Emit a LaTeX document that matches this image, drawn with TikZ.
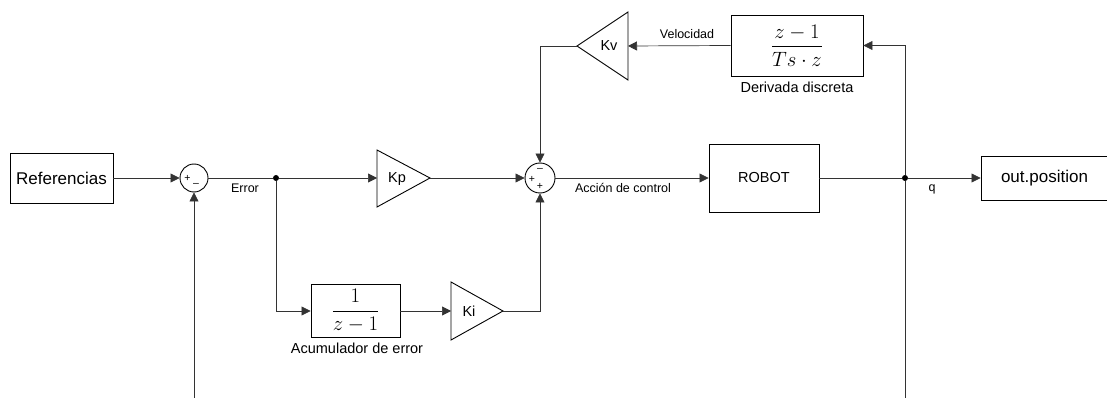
\documentclass[tikz,border=0pt]{standalone}
\usepackage{fontspec}
\usepackage{amsmath}
\setmainfont{Liberation Sans}
\usetikzlibrary{arrows.meta}
\begin{document}
\begin{tikzpicture}[x=1pt,y=-1pt,
 blk/.style={draw,line width=0.9pt,inner sep=0pt,fill=white},
 gain/.style={draw,line width=0.9pt,fill=white,line join=miter},
 wire/.style={line width=0.7pt,draw=black!80},
 arr/.style={wire,-{Triangle[length=9pt,width=9pt]}},
 lbl/.style={font=\fontsize{12.5}{14}\selectfont,inner sep=0pt},
 blbl/.style={font=\fontsize{14.5}{16}\selectfont,inner sep=0pt},
 sumc/.style={draw,circle,inner sep=0pt,line width=0.9pt,fill=white},
 dot/.style={circle,fill,inner sep=0pt,minimum size=6pt},
 sgn/.style={font=\fontsize{10.5}{10.5}\selectfont,inner sep=0pt}]
\useasboundingbox (0,0) rectangle (1107,398);
\fill[white] (0,0) rectangle (1107,398);

% blocks
\node[blk,minimum width=103pt,minimum height=50pt,font=\fontsize{17}{20}\selectfont] (ref) at (61.5,178) {Referencias};
\node[sumc,minimum size=28pt] (s1) at (194,178) {};
\node[sgn] at (187.5,178.5) {+};
\node[sgn] at (196,185) {--};
\node[dot] (e) at (276,178) {};
\node[lbl] at (245,188) {Error};

% Kp
\draw[gain] (377,150) -- (430,178) -- (377,207) -- cycle;
\coordinate (kpin) at (377,178);
\coordinate (kpout) at (430,178);
\node[blbl] (kp) at (397,179) {Kp};

% Sum 2
\node[sumc,minimum size=30pt] (s2) at (540,178) {};
\node[sgn] at (540,170) {--};
\node[sgn] at (532,179) {+};
\node[sgn] at (540,186) {+};
\node[lbl] at (623,188) {Acción de control};

% Robot
\node[blk,minimum width=110pt,minimum height=68pt,font=\fontsize{14.5}{16}\selectfont] (robot) at (764,178) {ROBOT};
\node[dot] (q) at (905,178) {};
\node[lbl] at (932,189) {q};
\node[blk,minimum width=135pt,minimum height=44pt,font=\fontsize{17}{20}\selectfont] (out) at (1048.5,178) {\hspace*{-8pt}out.position};

% Derivative
\node[blk,minimum width=132pt,minimum height=61pt,font=\fontsize{20}{24}\selectfont] (der) at (797,45.5) {$\dfrac{z-1}{Ts\cdot z}$};
\node[blbl] at (797,87) {Derivada discreta};

% Kv
\draw[gain] (628,12) -- (577,46) -- (628,80) -- cycle;
\coordinate (kvin) at (628,46);
\coordinate (kvout) at (577,46);
\node[blbl] (kv) at (609,46) {Kv};
\node[lbl] at (687,34) {Velocidad};

% Integrator
\node[blk,minimum width=89pt,minimum height=53pt,font=\fontsize{20}{24}\selectfont] (int) at (355.5,311) {$\dfrac{1}{z-1}$};
\node[blbl] at (357,348) {Acumulador de error};

% Ki
\draw[gain] (451,282) -- (503,311) -- (451,340) -- cycle;
\coordinate (kiin) at (451,311);
\coordinate (kiout) at (503,311);
\node[blbl] (ki) at (469,311) {Ki};

% free ends
\coordinate (fb1) at (194,400);
\coordinate (qbot) at (905,400);

% connectors
\draw[arr] (ref.east) -- (s1.west);
\draw[arr] (fb1) -- (s1.south);
\draw[wire] (s1.east) -- (e);
\draw[arr] (e) -- (kpin);
\draw[arr] (e) |- (int.west);
\draw[arr] (int.east) -- (kiin);
\draw[arr] (kiout) -| (s2.south);
\draw[arr] (kpout) -- (s2.west);
\draw[arr] (kvout) -| (s2.north);
\draw[arr] (s2.east) -- (robot.west);
\draw[wire] (robot.east) -- (q);
\draw[arr] (q) -- (out.west);
\draw[wire] (qbot) -- (q);
\draw[arr] (q) |- (der.east);
\draw[arr] (der.west) -- (kvin);
\end{tikzpicture}
\end{document}
